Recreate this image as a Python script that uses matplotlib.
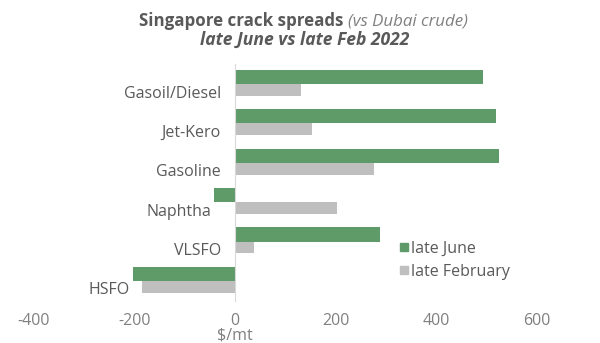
import numpy as np
import matplotlib.pyplot as plt
from matplotlib.patches import Patch
from matplotlib.transforms import offset_copy

products = ["Gasoil/Diesel", "Jet-Kero", "Gasoline", "Naphtha", "VLSFO", "HSFO"]
late_june = [492, 519, 524, -42, 288, -203]
late_feb = [132, 153, 277, 203, 38, -185]
x_ticks = [-400, -200, 0, 200, 400, 600]

GREEN = "#5e9b69"
GREY = "#bfbfbf"
TEXT = "#595959"
TICK = "#808080"
FS = 11.5

plt.rcParams["font.family"] = ["Open Sans", "DejaVu Sans"]

fig = plt.figure(figsize=(6, 3.43), dpi=100)
ax = fig.add_axes([0.056, 0.1236, 0.839, 0.6886])

y = np.arange(len(products))
h_june, h_feb = 0.36, 0.30
ax.barh(y - h_june / 2, late_june, height=h_june, color=GREEN)
ax.barh(y + h_feb / 2, late_feb, height=h_feb, color=GREY)

ax.set_xlim(-400, 600)
ax.set_ylim(len(products) - 0.5, -0.5)
ax.set_xticks(x_ticks)
ax.set_xticklabels([str(v) for v in x_ticks])
ax.set_yticks([])
ax.tick_params(axis="x", length=0, pad=9, labelsize=FS, labelcolor=TICK)

for side in ["top", "right", "bottom"]:
    ax.spines[side].set_visible(False)
ax.spines["left"].set_position(("data", 0))
ax.spines["left"].set_color("#d9d9d9")
ax.spines["left"].set_linewidth(0.8)

# category names go left of the zero line, or left of a negative bar
for i, name in enumerate(products):
    left = min(0, late_june[i], late_feb[i])
    pad = 14 if left == 0 else 3
    tr = offset_copy(ax.transData, fig=fig, x=-pad, y=0, units="dots")
    ax.text(left, i + 0.24, name, transform=tr, ha="right", va="center",
            fontsize=FS, color=TEXT)

fig.text(0.392, 0.01, "$/mt", fontsize=FS, color=TICK, ha="center")

handles = [Patch(color=GREEN), Patch(color=GREY)]
ax.legend(handles, ["late June", "late February"], loc="upper left",
          bbox_to_anchor=(0.7, 0.315), frameon=False, fontsize=FS,
          labelcolor=TEXT, handlelength=0.45, handleheight=0.45,
          handletextpad=0.2, labelspacing=0.45)

# title: bold part followed by a lighter italic aside, centred together
renderer = fig.canvas.get_renderer()
t1 = fig.text(0, 0.925, "Singapore crack spreads ", fontsize=12.2,
              fontweight="bold", color=TEXT, va="baseline")
t2 = fig.text(0, 0.925, "(vs Dubai crude)", fontsize=12.2, style="italic",
              color=TICK, va="baseline")
w1 = t1.get_window_extent(renderer).width / fig.bbox.width
w2 = t2.get_window_extent(renderer).width / fig.bbox.width
x0 = 0.506 - (w1 + w2) / 2
t1.set_x(x0)
t2.set_x(x0 + w1)
fig.text(0.507, 0.868, "late June vs late Feb 2022", fontsize=12.6,
         fontweight="bold", style="italic", color=TEXT, ha="center",
         va="baseline")

fig.savefig("out.png", dpi=100, facecolor="white")
